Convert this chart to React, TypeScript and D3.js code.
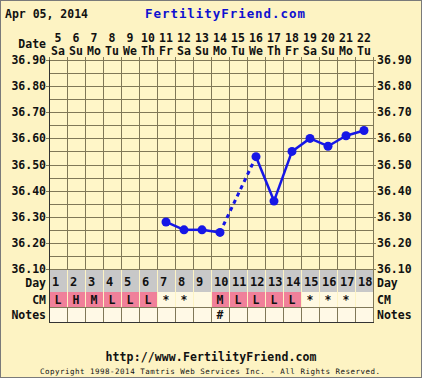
import React from "react";
import * as d3 from "d3";

const dates = [5, 6, 7, 8, 9, 10, 11, 12, 13, 14, 15, 16, 17, 18, 19, 20, 21, 22];
const weekdays = ["Sa", "Su", "Mo", "Tu", "We", "Th", "Fr", "Sa", "Su", "Mo", "Tu", "We", "Th", "Fr", "Sa", "Su", "Mo", "Tu"];
const cycleDays = [1, 2, 3, 4, 5, 6, 7, 8, 9, 10, 11, 12, 13, 14, 15, 16, 17, 18];
const temps: (number | null)[] = [null, null, null, null, null, null, 36.28, 36.25, 36.25, 36.24, null, 36.53, 36.36, 36.55, 36.6, 36.57, 36.61, 36.63];
const cm = ["L", "H", "M", "L", "L", "L", "*", "*", "", "M", "L", "L", "L", "L", "*", "*", "*", ""];
const notes = ["", "", "", "", "", "", "", "", "", "#", "", "", "", "", "", "", "", ""];
const yTicks = [36.9, 36.8, 36.7, 36.6, 36.5, 36.4, 36.3, 36.2, 36.1];
const yGrid = d3.range(36.1, 36.9001, 0.05);

const W = 422, H = 378;
const L = 49, R = 373, T = 60, B = 269;
const DAY_B = 292, CM_B = 307, NOTE_B = 322;
const BG = "#fdf3c3";
const GRID = "#807858";
const BLUE = "#1616e6";
const FONT = "'DejaVu Sans Mono', monospace";

export default function App() {
  const x = d3.scaleBand<number>().domain(cycleDays).range([L, R]).padding(0);
  const y = d3.scaleLinear().domain([36.1, 36.9]).range([B, T]);
  const cx = (d: number) => (x(d) as number) + x.bandwidth() / 2;
  const bw = x.bandwidth();

  const pts = cycleDays
    .map((d, i) => ({ d, v: temps[i] }))
    .filter((p) => p.v !== null) as { d: number; v: number }[];
  const segs: { a: { d: number; v: number }; b: { d: number; v: number }; dotted: boolean }[] = [];
  for (let i = 1; i < pts.length; i++) {
    segs.push({ a: pts[i - 1], b: pts[i], dotted: pts[i].d - pts[i - 1].d > 1 });
  }
  const line = d3.line<{ d: number; v: number }>().x((p) => cx(p.d)).y((p) => y(p.v));

  const txt = { fontFamily: FONT, fontWeight: 700, fontSize: 11.5, fill: "#111" } as const;

  return (
    <svg width={W} height={H} style={{ position: "absolute", left: 0, top: 0, display: "block" }}>
      <rect x={0.5} y={0.5} width={W - 1} height={H - 1} fill={BG} stroke="#7a7a7a" strokeWidth={1} />
      <text x={5} y={18} {...txt} textLength={83}>Apr 05, 2014</text>
      <text x={225} y={18} {...txt} fill="#1010d0" textAnchor="middle" textLength={160} fontSize={12.5}>FertilityFriend.com</text>
      <text x={46} y={48} {...txt} textAnchor="end">Date</text>
      {cycleDays.map((d, i) => (
        <g key={"h" + d}>
          <text x={cx(d)} y={42} {...txt} textAnchor="middle">{dates[i]}</text>
          <text x={cx(d)} y={55} {...txt} textAnchor="middle">{weekdays[i]}</text>
        </g>
      ))}
      {/* plot */}
      <rect x={L} y={T} width={R - L} height={B - T} fill="#fff6c8" />
      {yGrid.map((v, i) => (
        <line key={"gy" + i} x1={L} x2={R} y1={Math.round(y(v)) + 0.5} y2={Math.round(y(v)) + 0.5} stroke={GRID} strokeWidth={1} />
      ))}
      {cycleDays.map((d) => (
        <g key={"gx" + d}>
          <line x1={(x(d) as number) + 0.5} x2={(x(d) as number) + 0.5} y1={T - 3} y2={B} stroke={GRID} strokeWidth={1} />
          <line x1={(x(d) as number) + 0.5} x2={(x(d) as number) + 0.5} y1={CM_B} y2={NOTE_B} stroke={GRID} strokeWidth={1} />
        </g>
      ))}
      {/* table rows */}
      {cycleDays.map((d, i) => {
        const x0 = x(d) as number;
        return (
          <g key={"row" + d}>
            <rect x={x0 + 1} y={B + 1} width={bw - 1} height={DAY_B - B - 1} fill="#c8c8c8" />
            <rect x={x0 + 1} y={DAY_B} width={bw - 1} height={CM_B - DAY_B} fill={["L", "H", "M"].includes(cm[i]) ? "#f0809a" : "#fff9e2"} />
            <rect x={x0 + 1} y={CM_B + 1} width={bw - 1} height={NOTE_B - CM_B - 1} fill="#fff9e6" />
            <text x={x0 + 3} y={B + 17} {...txt} fontSize={12}>{cycleDays[i]}</text>
            <text x={cx(d)} y={CM_B - 3} {...txt} textAnchor="middle">{cm[i]}</text>
            <text x={cx(d)} y={NOTE_B - 3} {...txt} textAnchor="middle">{notes[i]}</text>
          </g>
        );
      })}
      <line x1={R + 0.5} x2={R + 0.5} y1={T - 3} y2={NOTE_B} stroke={GRID} />
      {yTicks.map((v) => (
        <g key={"yt" + v}>
          <line x1={L - 3} x2={L} y1={Math.round(y(v)) + 0.5} y2={Math.round(y(v)) + 0.5} stroke={GRID} />
          <line x1={R} x2={R + 3} y1={Math.round(y(v)) + 0.5} y2={Math.round(y(v)) + 0.5} stroke={GRID} />
          <text x={46} y={y(v) + 4} {...txt} textAnchor="end">{v.toFixed(2)}</text>
          <text x={377} y={y(v) + 4} {...txt}>{v.toFixed(2)}</text>
        </g>
      ))}
      <line x1={L} x2={R} y1={B + 0.5} y2={B + 0.5} stroke={GRID} />
      <line x1={L} x2={R} y1={CM_B + 0.5} y2={CM_B + 0.5} stroke={GRID} />
      <line x1={L} x2={R + 1} y1={NOTE_B + 0.5} y2={NOTE_B + 0.5} stroke="#333" />
      <line x1={L + 0.5} x2={L + 0.5} y1={T} y2={NOTE_B} stroke="#333" />
      <text x={46} y={B + 18} {...txt} textAnchor="end">Day</text>
      <text x={377} y={B + 18} {...txt}>Day</text>
      <text x={46} y={CM_B - 3} {...txt} textAnchor="end">CM</text>
      <text x={377} y={CM_B - 3} {...txt}>CM</text>
      <text x={46} y={NOTE_B - 3} {...txt} textAnchor="end">Notes</text>
      <text x={377} y={NOTE_B - 3} {...txt}>Notes</text>
      {/* temps */}
      {segs.map((s, i) => (
        <path key={"s" + i} d={line([s.a, s.b]) || ""} fill="none" stroke={BLUE} strokeWidth={s.dotted ? 3 : 2.5} strokeDasharray={s.dotted ? "4 4" : undefined} />
      ))}
      {pts.map((p) => (
        <circle key={"p" + p.d} cx={cx(p.d)} cy={y(p.v)} r={4.5} fill={BLUE} />
      ))}
      <text x={211} y={361} {...txt} textAnchor="middle" textLength={211}>http://www.FertilityFriend.com</text>
      <text x={210} y={374} {...txt} fontWeight={400} fontSize={7.5} textAnchor="middle" textLength={340}>Copyright 1998-2014 Tamtris Web Services Inc. - All Rights Reserved.</text>
    </svg>
  );
}
